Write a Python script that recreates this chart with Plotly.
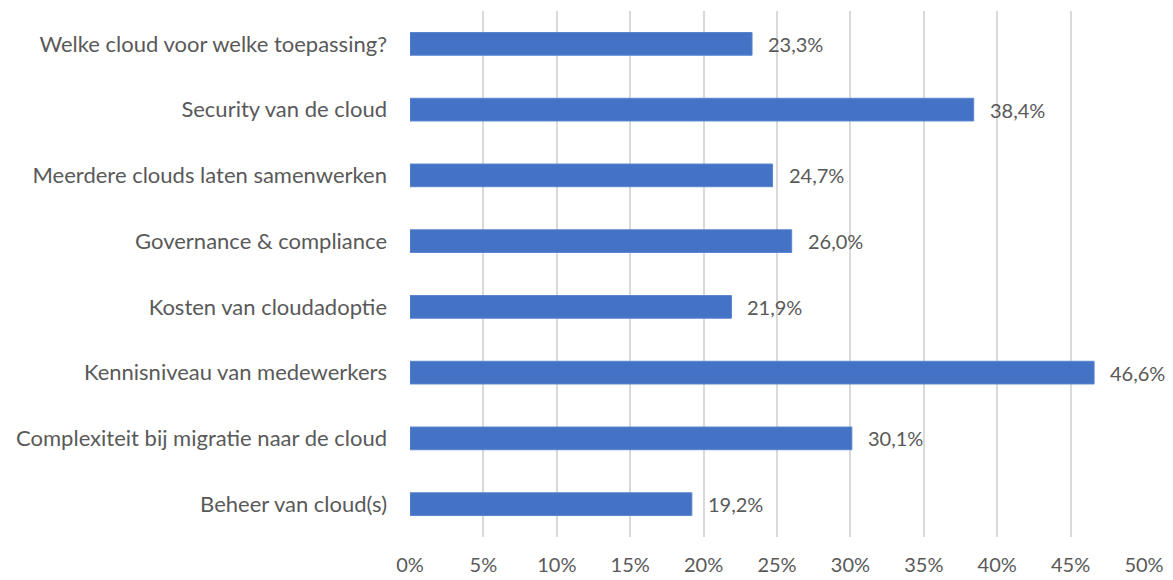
import plotly.graph_objects as go

categories = [
    "Welke cloud voor welke toepassing?",
    "Security van de cloud",
    "Meerdere clouds laten samenwerken",
    "Governance & compliance",
    "Kosten van cloudadoptie",
    "Kennisniveau van medewerkers",
    "Complexiteit bij migratie naar de cloud",
    "Beheer van cloud(s)",
]
values = [23.3, 38.4, 24.7, 26.0, 21.9, 46.6, 30.1, 19.2]
tick_vals = [0, 5, 10, 15, 20, 25, 30, 35, 40, 45, 50]
tick_text = [f"{t}%" for t in tick_vals]
labels = [f"{v:.1f}%".replace(".", ",") for v in values]

FONT = "Lato"
FS = 22
FS_NUM = 20
TXT = "#595959"

fig = go.Figure(go.Bar(
    x=values,
    y=categories,
    orientation="h",
    marker=dict(color="#4472C4", line=dict(color="#5B86D0", width=1)),
    hoverinfo="skip",
))

for c, v, lab in zip(categories, values, labels):
    fig.add_annotation(x=v, y=c, text=lab, showarrow=False, xanchor="left",
                       xshift=14, font=dict(family=FONT, size=FS_NUM, color=TXT))

fig.update_layout(
    width=1165, height=572,
    margin=dict(l=402, r=29, t=3, b=43, autoexpand=False),
    paper_bgcolor="white", plot_bgcolor="white",
    bargap=0.655,
    showlegend=False,
    font=dict(family=FONT, size=FS, color=TXT),
    xaxis=dict(range=[0, 50], tickvals=tick_vals, ticktext=tick_text,
               showgrid=True, gridcolor="#D9D9D9", gridwidth=2,
               zeroline=False, showline=False, ticks="",
               ticklabelstandoff=14, automargin=False,
               tickfont=dict(family=FONT, size=FS_NUM, color=TXT)),
    yaxis=dict(autorange="reversed", categoryorder="array", categoryarray=categories,
               showgrid=False, zeroline=False, showline=False, ticks="",
               ticklabelstandoff=22, automargin=False,
               tickfont=dict(family=FONT, size=FS, color=TXT)),
)

fig.write_html("out.html")
